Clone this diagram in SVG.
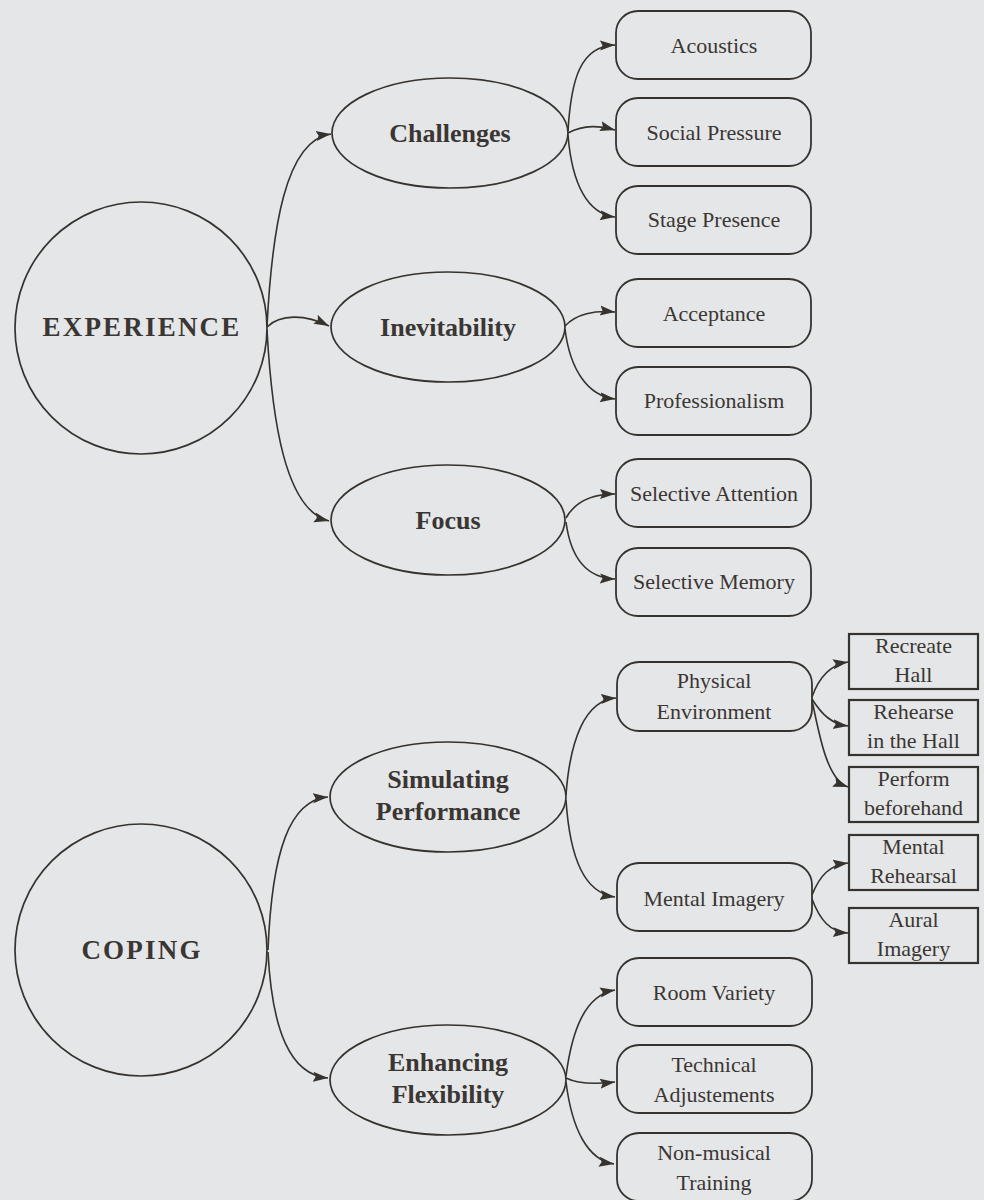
<svg xmlns="http://www.w3.org/2000/svg" width="984" height="1200" viewBox="0 0 984 1200">
<defs>
<marker id="ah" markerUnits="userSpaceOnUse" markerWidth="16" markerHeight="12" refX="15" refY="5.5" orient="auto">
<path d="M0,0.5 L15,5.5 L0,10.5 L2.5,5.5 z" fill="#36332f"/>
</marker>
<style>
.bg{fill:#e5e6e8}
.ell{fill:none;stroke:#36332f;stroke-width:1.7}
.box{fill:none;stroke:#36332f;stroke-width:1.8}
.sq{fill:none;stroke:#36332f;stroke-width:2.2}
.con path{fill:none;stroke:#36332f;stroke-width:1.6;marker-end:url(#ah)}
.big{font-family:"Liberation Serif",serif;font-weight:bold;font-size:27px;letter-spacing:2.2px;fill:#3a3633;text-anchor:middle}
.mid{font-family:"Liberation Serif",serif;font-weight:bold;font-size:26px;fill:#3a3633;text-anchor:middle}
.lbl{font-family:"Liberation Serif",serif;font-size:22px;fill:#3a3633;text-anchor:middle}
</style>
</defs>
<rect class="bg" x="0" y="0" width="984" height="1200"/>

<g id="connectors" class="con">
<path d="M267,326 C272,230 285,140 331,134"/>
<path d="M267,327 C280,314 305,314 329,326"/>
<path d="M267,330 C272,420 285,510 329,521"/>
<path d="M568,131 C571,80 580,46 615,45"/>
<path d="M568,133 C585,124 600,126 615,130"/>
<path d="M568,135 C572,185 588,214 615,217"/>
<path d="M565,326 C576,314 595,310 615,312"/>
<path d="M565,329 C570,370 588,396 615,399"/>
<path d="M566,518 C576,500 595,494 615,494"/>
<path d="M566,522 C571,560 588,578 615,579"/>
<path d="M268,950 C272,850 290,800 328,797"/>
<path d="M268,952 C272,1030 290,1075 328,1078"/>
<path d="M566,795 C570,740 585,700 616,698"/>
<path d="M566,800 C570,860 585,893 615,897"/>
<path d="M812,697 C818,680 828,665 848,662"/>
<path d="M812,699 C822,715 832,724 848,726"/>
<path d="M812,700 C820,740 828,780 848,787"/>
<path d="M812,895 C820,875 830,865 848,863"/>
<path d="M812,899 C820,920 830,932 848,933"/>
<path d="M566,1076 C572,1030 585,995 615,990"/>
<path d="M566,1078 C580,1085 598,1084 615,1082"/>
<path d="M566,1082 C572,1130 588,1160 614,1164"/>
</g>

<g id="experience"><ellipse class="ell" cx="141" cy="328" rx="126" ry="126"/><text class="big" x="142" y="336">EXPERIENCE</text></g>
<g id="challenges"><ellipse class="ell" cx="450" cy="133" rx="118" ry="55"/><text class="mid" x="450" y="142">Challenges</text></g>
<g id="inevitability"><ellipse class="ell" cx="448" cy="327" rx="117" ry="55"/><text class="mid" x="448" y="336">Inevitability</text></g>
<g id="focus"><ellipse class="ell" cx="448" cy="520" rx="117" ry="55"/><text class="mid" x="448" y="529">Focus</text></g>

<g id="acoustics"><rect class="box" x="616" y="11" width="195" height="68" rx="22"/><text class="lbl" x="714" y="53">Acoustics</text></g>
<g id="social-pressure"><rect class="box" x="616" y="98" width="195" height="68" rx="22"/><text class="lbl" x="714" y="140">Social Pressure</text></g>
<g id="stage-presence"><rect class="box" x="616" y="186" width="195" height="68" rx="22"/><text class="lbl" x="714" y="227">Stage Presence</text></g>
<g id="acceptance"><rect class="box" x="616" y="279" width="195" height="68" rx="22"/><text class="lbl" x="714" y="321">Acceptance</text></g>
<g id="professionalism"><rect class="box" x="616" y="367" width="195" height="68" rx="22"/><text class="lbl" x="714" y="408">Professionalism</text></g>
<g id="selective-attention"><rect class="box" x="616" y="459" width="195" height="68" rx="22"/><text class="lbl" x="714" y="501">Selective Attention</text></g>
<g id="selective-memory"><rect class="box" x="616" y="548" width="195" height="68" rx="22"/><text class="lbl" x="714" y="589">Selective Memory</text></g>

<g id="coping"><ellipse class="ell" cx="141" cy="950" rx="126" ry="126"/><text class="big" x="142" y="959">COPING</text></g>
<g id="simulating"><ellipse class="ell" cx="448" cy="797" rx="118" ry="55"/><text class="mid" x="448" y="788">Simulating</text><text class="mid" x="448" y="820">Performance</text></g>
<g id="enhancing"><ellipse class="ell" cx="448" cy="1080" rx="118" ry="55"/><text class="mid" x="448" y="1071">Enhancing</text><text class="mid" x="448" y="1103">Flexibility</text></g>

<g id="physical-environment"><rect class="box" x="617" y="662" width="195" height="69" rx="22"/><text class="lbl" x="714" y="688">Physical</text><text class="lbl" x="714" y="719">Environment</text></g>
<g id="mental-imagery"><rect class="box" x="617" y="863" width="195" height="68" rx="22"/><text class="lbl" x="714" y="906">Mental Imagery</text></g>
<g id="room-variety"><rect class="box" x="617" y="958" width="195" height="68" rx="22"/><text class="lbl" x="714" y="1000">Room Variety</text></g>
<g id="technical"><rect class="box" x="617" y="1045" width="195" height="68" rx="22"/><text class="lbl" x="714" y="1072">Technical</text><text class="lbl" x="714" y="1102">Adjustements</text></g>
<g id="non-musical"><rect class="box" x="617" y="1133" width="195" height="68" rx="22"/><text class="lbl" x="714" y="1160">Non-musical</text><text class="lbl" x="714" y="1190">Training</text></g>

<g id="recreate-hall"><rect class="sq" x="849" y="634" width="129" height="55"/><text class="lbl" x="913.5" y="653">Recreate</text><text class="lbl" x="913.5" y="682">Hall</text></g>
<g id="rehearse-hall"><rect class="sq" x="849" y="700" width="129" height="55"/><text class="lbl" x="913.5" y="719">Rehearse</text><text class="lbl" x="913.5" y="748">in the Hall</text></g>
<g id="perform-beforehand"><rect class="sq" x="849" y="767" width="129" height="55"/><text class="lbl" x="913.5" y="786">Perform</text><text class="lbl" x="913.5" y="815">beforehand</text></g>
<g id="mental-rehearsal"><rect class="sq" x="849" y="835" width="129" height="55"/><text class="lbl" x="913.5" y="854">Mental</text><text class="lbl" x="913.5" y="883">Rehearsal</text></g>
<g id="aural-imagery"><rect class="sq" x="849" y="908" width="129" height="55"/><text class="lbl" x="913.5" y="927">Aural</text><text class="lbl" x="913.5" y="956">Imagery</text></g>
</svg>
